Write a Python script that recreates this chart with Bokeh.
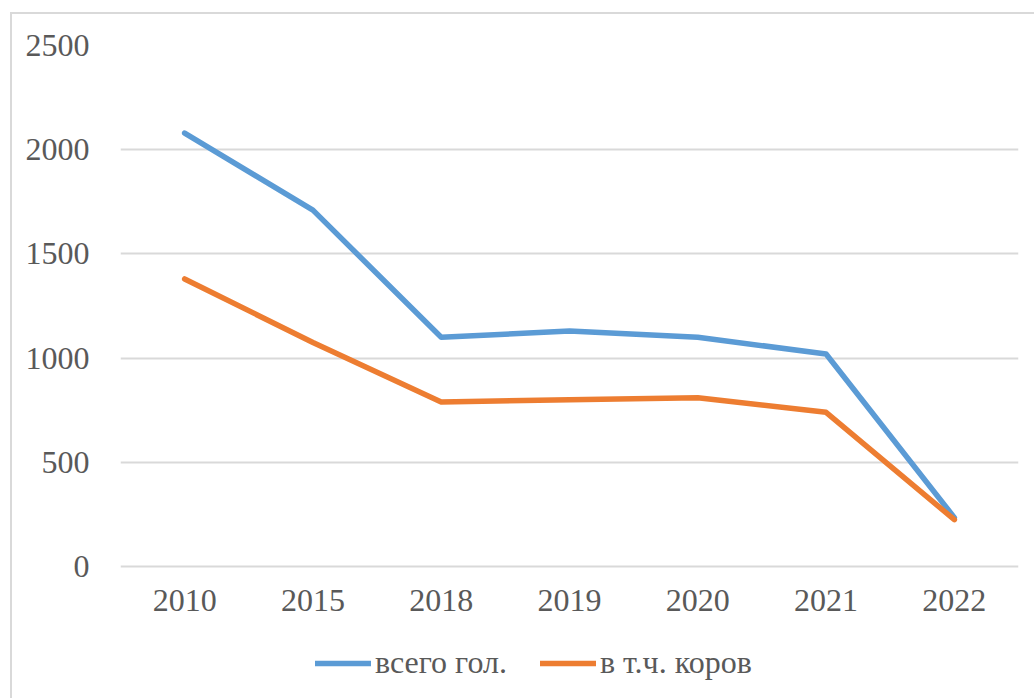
from bokeh.plotting import figure
from bokeh.models import Legend, LegendItem, FixedTicker
from bokeh.embed import file_html
from bokeh.resources import INLINE

years = ["2010", "2015", "2018", "2019", "2020", "2021", "2022"]
total_heads = [2080, 1710, 1100, 1130, 1100, 1020, 235]
cows = [1380, 1075, 790, 800, 810, 740, 225]
series_names = ["всего гол.", "в т.ч. коров"]
y_ticks = [0, 500, 1000, 1500, 2000, 2500]

FONT = "Liberation Serif"
TXT = "#595959"
GRID = "#d9d9d9"

p = figure(width=1022, height=684, x_range=years, y_range=(-633, 2500),
           output_backend="svg", toolbar_location=None,
           min_border_left=108, min_border_right=16, min_border_top=31, min_border_bottom=0)
p.margin = (14, 0, 0, 12)
p.styles = {"outline": "2px solid #d9d9d9"}
p.outline_line_color = None
p.background_fill_color = "white"
p.border_fill_color = "white"

r1 = p.line(years, total_heads, line_color="#5b9bd5", line_width=5.5, line_cap="round", line_join="round")
r2 = p.line(years, cows, line_color="#ed7d31", line_width=5.5, line_cap="round", line_join="round")

p.yaxis.ticker = FixedTicker(ticks=y_ticks)
p.xaxis.fixed_location = 0
for ax in (p.xaxis[0], p.yaxis[0]):
    ax.axis_line_color = None
    ax.major_tick_line_color = None
    ax.minor_tick_line_color = None
    ax.major_label_text_font = FONT
    ax.major_label_text_font_size = "32px"
    ax.major_label_text_color = TXT
p.yaxis.major_label_standoff = 25
p.xaxis.major_label_standoff = 17

p.xgrid.grid_line_color = None
p.ygrid.grid_line_color = GRID
p.ygrid.grid_line_width = 2

legend = Legend(items=[LegendItem(label=series_names[0], renderers=[r1]),
                       LegendItem(label=series_names[1], renderers=[r2])],
                orientation="horizontal", location=(195, 17),
                label_text_font=FONT, label_text_font_size="32px", label_text_color=TXT,
                glyph_width=56, label_standoff=4, spacing=33,
                border_line_color=None, background_fill_alpha=0)
p.add_layout(legend, "center")

open("out.html", "w").write(file_html(p, INLINE))
